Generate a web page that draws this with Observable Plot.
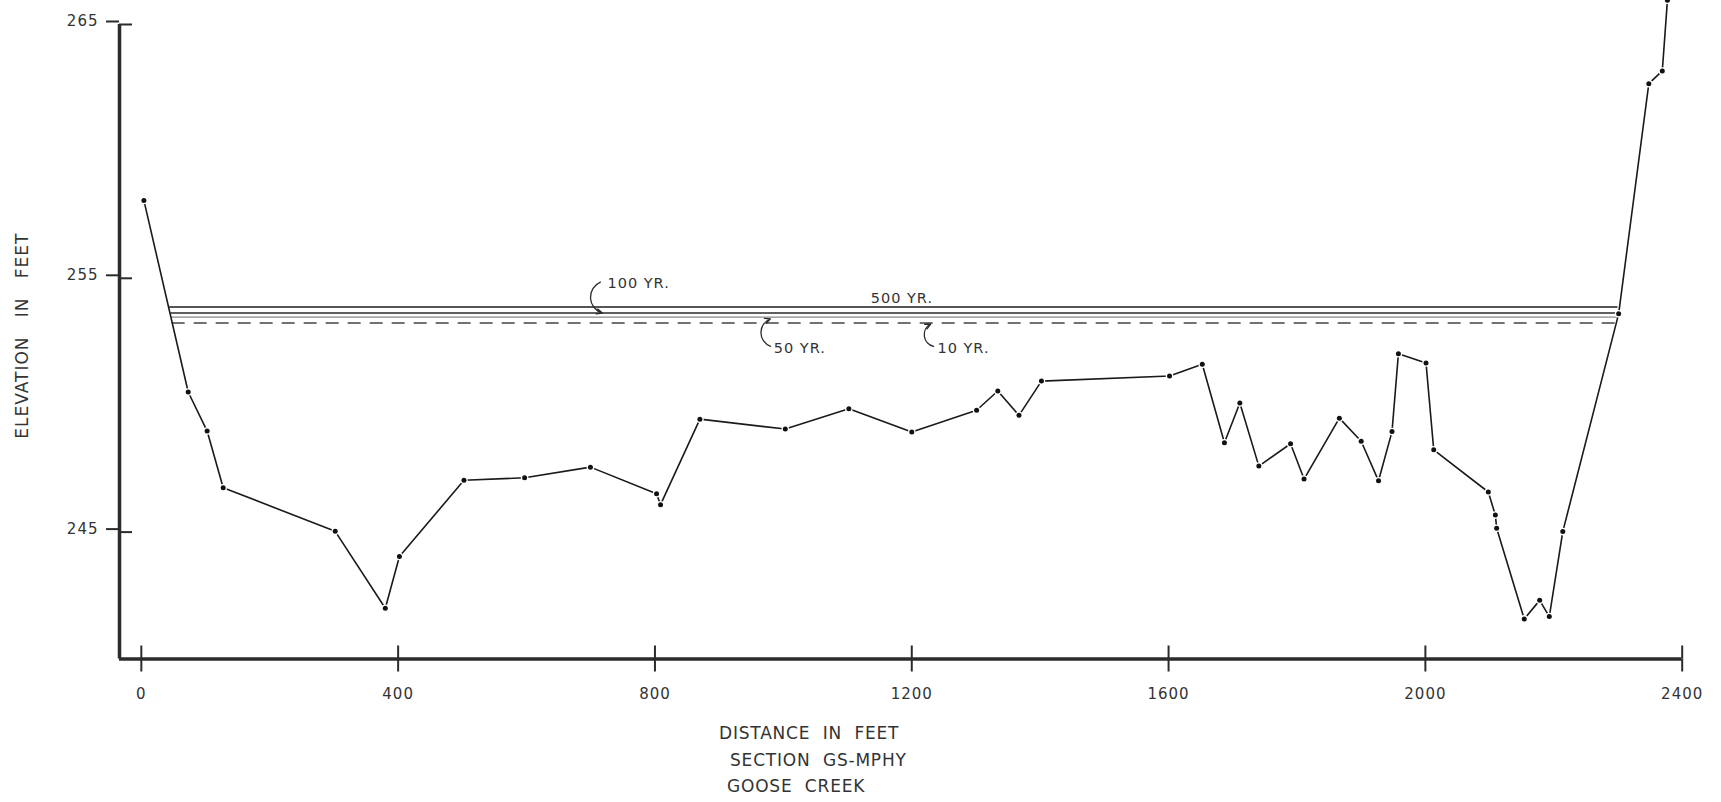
<!DOCTYPE html>
<html>
<head>
<meta charset="utf-8">
<script src="https://cdn.jsdelivr.net/npm/d3@7"></script>
<script src="https://cdn.jsdelivr.net/npm/@observablehq/plot@0.6"></script>
<style>
  html, body { margin: 0; padding: 0; background: #fff; }
  #chart svg text { letter-spacing: 1px; }
  #caption { font-family: "DejaVu Sans", sans-serif; font-size: 17px; letter-spacing: 0.8px;
             color: #333; line-height: 26.5px; white-space: pre; padding-top: 8px; }
  #caption div { position: relative; }
</style>
</head>
<body>
<div id="chart"></div>
<div id="caption"></div>
<script>
// ---- data ----
const xTicks = [0, 400, 800, 1200, 1600, 2000, 2400];
const yTicks = [245, 255, 265];
const xDomain = [-34, 2400];
const yDomain = [240, 265];

// ground profile: distance (ft) and elevation (ft)
const groundDist = [4, 73, 102.5, 127.5, 302, 380, 402, 502.5, 597, 699.5, 802.5, 808.7, 870, 1003, 1102, 1200,
  1301, 1334, 1367, 1402, 1601.5, 1652.5, 1687, 1711, 1740.6, 1790, 1811, 1866, 1900, 1927, 1948, 1958, 2001, 2013,
  2098, 2109, 2111, 2154, 2178, 2193, 2214, 2301, 2348, 2369, 2377];
const groundElev = [258.07, 250.52, 248.98, 246.75, 245.03, 242.0, 244.04, 247.04, 247.14, 247.56, 246.51, 246.08,
  249.45, 249.06, 249.86, 248.94, 249.8, 250.56, 249.6, 250.95, 251.15, 251.61, 248.52, 250.09, 247.6, 248.48, 247.09,
  249.49, 248.58, 247.02, 248.96, 252.03, 251.66, 248.24, 246.58, 245.67, 245.15, 241.58, 242.31, 241.67, 245.02,
  253.6, 262.67, 263.17, 265.96];

// flood water-surface elevations
const levelNames = ["500 YR.", "100 YR.", "50 YR.", "10 YR."];
const levelElev = [253.87, 253.63, 253.47, 253.24];
const levelFrom = [44, 46, 47, 48];
const levelTo = [2300, 2300, 2300, 2300];

// label anchors (distance, elevation)
const labelDist = [1136, 726, 985, 1240];
const labelElev = [254.21, 254.8, 252.24, 252.24];

// leader hooks: from (near label) to (water line)
const leaderNames = ["100 YR.", "50 YR.", "10 YR."];
const leaderFromDist = [715, 980, 1234];
const leaderFromElev = [254.85, 252.32, 252.32];
const leaderToDist = [718, 980, 1229.5];
const leaderToElev = [253.63, 253.40, 253.20];

const captionLines = ["DISTANCE  IN  FEET", "SECTION  GS-MPHY", "GOOSE  CREEK"];
const yLabel = "ELEVATION   IN   FEET";

// ---- build tables ----
const ground = groundDist.map((d, i) => ({dist: d, elev: groundElev[i]}));
const levels = levelNames.map((n, i) => ({name: n, elev: levelElev[i], from: levelFrom[i], to: levelTo[i]}));
const labels = levelNames.map((n, i) => ({name: n, dist: labelDist[i], elev: labelElev[i]}));
const leaders = leaderNames.map((n, i) => ({name: n, x1: leaderFromDist[i], y1: leaderFromElev[i], x2: leaderToDist[i], y2: leaderToElev[i]}));

const levelStyle = {
  "500 YR.": {stroke: "#1e1e1e", strokeWidth: 1.6},
  "100 YR.": {stroke: "#2a2a2a", strokeWidth: 1.4},
  "50 YR.":  {stroke: "#8a8a8a", strokeWidth: 1.4},
  "10 YR.":  {stroke: "#444", strokeWidth: 1.4, strokeDasharray: "13,9"}
};

const ink = "#2b2b2b";
const chart = Plot.plot({
  width: 1721,
  height: 712,
  marginLeft: 119,
  marginRight: 39.3,
  marginTop: 24,
  marginBottom: 53.5,
  style: {fontFamily: "DejaVu Sans, sans-serif", fontSize: "15px", color: "#333", background: "#fff"},
  x: {domain: xDomain},
  y: {domain: yDomain},
  marks: [
    // water surfaces
    ...levels.map(l => Plot.ruleY([l], {y: "elev", x1: "from", x2: "to", ...levelStyle[l.name]})),
    // ground profile
    Plot.line(ground, {x: "dist", y: "elev", stroke: "#1a1a1a", strokeWidth: 1.6}),
    Plot.dot(ground, {x: "dist", y: "elev", r: 3.8, fill: "#fff"}),
    Plot.dot(ground, {x: "dist", y: "elev", r: 2.5, fill: "#111"}),
    // leaders
    Plot.arrow(leaders.filter(d => d.y1 > d.y2), {x1: "x1", y1: "y1", x2: "x2", y2: "y2", bend: -70, stroke: ink, strokeWidth: 1.3, headLength: 7, headAngle: 50}),
    Plot.arrow(leaders.filter(d => d.y1 < d.y2), {x1: "x1", y1: "y1", x2: "x2", y2: "y2", bend: 70, stroke: ink, strokeWidth: 1.3, headLength: 7, headAngle: 50}),
    Plot.text(labels, {x: "dist", y: "elev", text: "name", textAnchor: "start", fontSize: 14.5, fill: "#333"}),
    // axes
    Plot.axisX(xTicks, {tickSize: 13, tickPadding: 16, tickFormat: d => String(d), label: null, stroke: ink, strokeWidth: 2, fontSize: 15}),
    Plot.axisX(xTicks, {tickSize: -13, tickFormat: () => "", label: null, stroke: ink, strokeWidth: 2}),
    Plot.axisY(yTicks, {tickSize: 13, tickPadding: 8, tickFormat: d => String(d), label: null, stroke: ink, strokeWidth: 2, fontSize: 15, dy: -3}),
    Plot.axisY(yTicks, {tickSize: -13, tickFormat: () => "", label: null, stroke: ink, strokeWidth: 2}),
    Plot.ruleY([yDomain[0]], {x1: xDomain[0], x2: xTicks[xTicks.length - 1], stroke: ink, strokeWidth: 3.5}),
    Plot.ruleX([xDomain[0]], {y1: yDomain[0], y2: yDomain[1], stroke: ink, strokeWidth: 3.5}),
    Plot.text([yLabel], {frameAnchor: "left", textAnchor: "middle", rotate: -90, dx: -97, dy: -6, fontSize: 17, fill: "#333"})
  ]
});
document.getElementById("chart").appendChild(chart);

const offsets = [719, 730, 727];
const cap = document.getElementById("caption");
captionLines.forEach((t, i) => {
  const d = document.createElement("div");
  d.textContent = t;
  d.style.marginLeft = offsets[i] + "px";
  cap.appendChild(d);
});
</script>
</body>
</html>
